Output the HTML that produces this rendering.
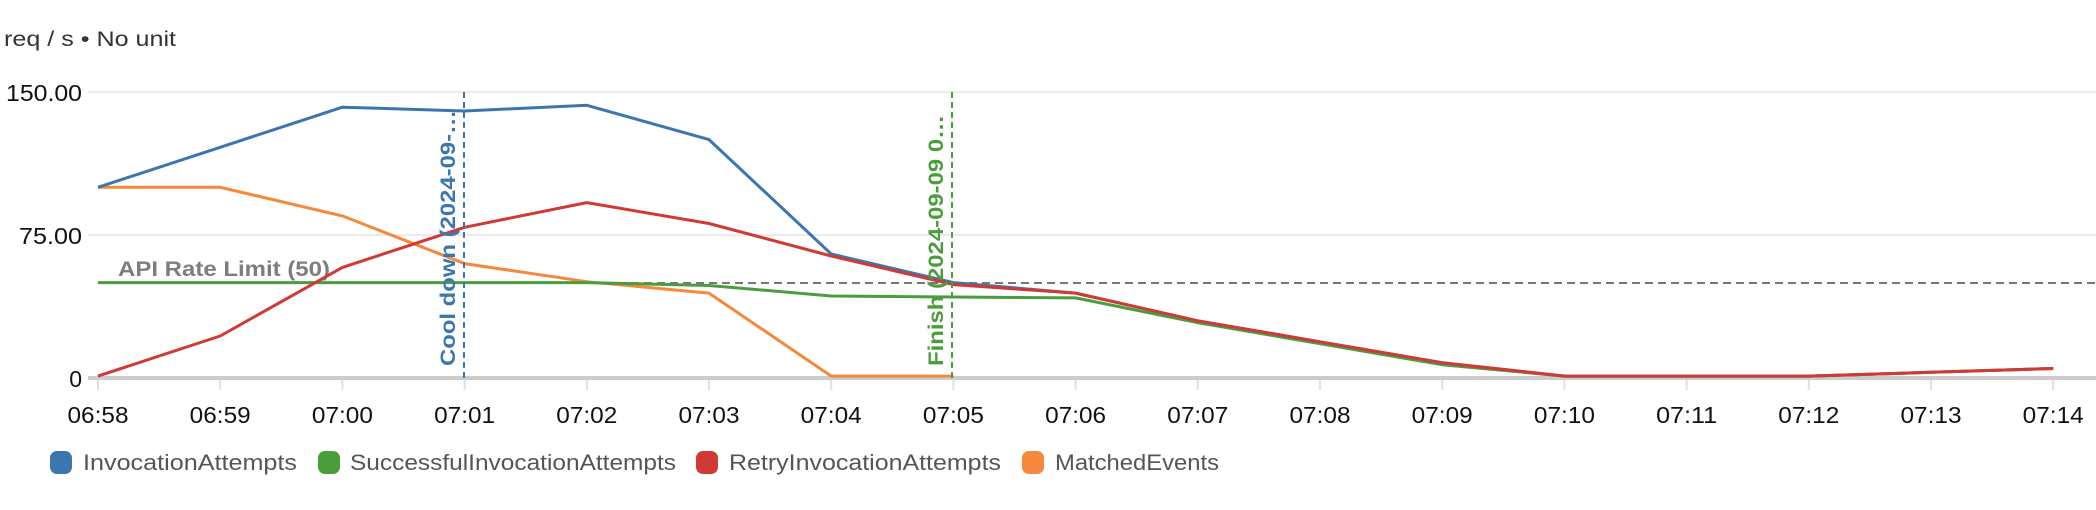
<!DOCTYPE html>
<html><head><meta charset="utf-8"><style>
html,body{margin:0;padding:0;background:#fff;}
svg{display:block;font-family:"Liberation Sans",sans-serif;}
</style></head><body>
<svg width="2096" height="510" viewBox="0 0 2096 510" xmlns="http://www.w3.org/2000/svg">
<text x="4" y="46" font-size="21" fill="#333" textLength="172" lengthAdjust="spacingAndGlyphs">req / s • No unit</text>
<line x1="88" y1="92" x2="2096" y2="92" stroke="#ebebeb" stroke-width="2"/>
<line x1="88" y1="235" x2="2096" y2="235" stroke="#ebebeb" stroke-width="2"/>
<text x="82" y="101" font-size="23" fill="#111" text-anchor="end" textLength="76" lengthAdjust="spacingAndGlyphs">150.00</text>
<text x="82" y="244" font-size="23" fill="#111" text-anchor="end" textLength="63" lengthAdjust="spacingAndGlyphs">75.00</text>
<text x="82" y="387" font-size="23" fill="#111" text-anchor="end">0</text>
<line x1="88" y1="378" x2="2096" y2="378" stroke="#cccccc" stroke-width="4"/>
<g stroke="#e0e0e0" stroke-width="2" id="ticks"></g>
<g font-size="23" fill="#111" text-anchor="middle" id="xl"></g>
<line x1="98" y1="283" x2="2096" y2="283" stroke="#777" stroke-width="2" stroke-dasharray="8,5"/>
<text x="118" y="276" font-size="21" font-weight="bold" fill="#7d7d7d" textLength="212" lengthAdjust="spacingAndGlyphs">API Rate Limit (50)</text>
<g fill="none" stroke-width="3" stroke-linejoin="round" id="series"></g>
<line x1="464" y1="92" x2="464" y2="378" stroke="#3b76af" stroke-width="2" stroke-dasharray="6,4"/>
<text transform="translate(455,366) rotate(-90)" font-size="21" font-weight="bold" fill="#3b76af" textLength="256" lengthAdjust="spacingAndGlyphs">Cool down (2024-09-…</text>
<line x1="952" y1="92" x2="952" y2="378" stroke="#4a9d3b" stroke-width="2" stroke-dasharray="6,4"/>
<text transform="translate(943,366) rotate(-90)" font-size="21" font-weight="bold" fill="#4a9d3b" textLength="251" lengthAdjust="spacingAndGlyphs">Finish (2024-09-09 0…</text>
<g font-size="22" fill="#555">
<rect x="50" y="451" width="22" height="23" rx="7" fill="#3b76af"/>
<text x="83" y="470" textLength="214" lengthAdjust="spacingAndGlyphs">InvocationAttempts</text>
<rect x="318" y="451" width="22" height="23" rx="7" fill="#4a9d3b"/>
<text x="350" y="470" textLength="326" lengthAdjust="spacingAndGlyphs">SuccessfulInvocationAttempts</text>
<rect x="696" y="451" width="22" height="23" rx="7" fill="#d13a34"/>
<text x="729" y="470" textLength="272" lengthAdjust="spacingAndGlyphs">RetryInvocationAttempts</text>
<rect x="1022" y="451" width="22" height="23" rx="7" fill="#f5883a"/>
<text x="1055" y="470" textLength="164" lengthAdjust="spacingAndGlyphs">MatchedEvents</text>
</g>
</svg>
<script>
(function(){
var ns="http://www.w3.org/2000/svg";
function X(i){return 98+i*122.2;}
function Y(v){return 378-v*1.907;}
var labels=["06:58","06:59","07:00","07:01","07:02","07:03","07:04","07:05","07:06","07:07","07:08","07:09","07:10","07:11","07:12","07:13","07:14"];
var t=document.getElementById("ticks"),xl=document.getElementById("xl");
labels.forEach(function(l,i){
 var ln=document.createElementNS(ns,"line");ln.setAttribute("x1",X(i));ln.setAttribute("x2",X(i));ln.setAttribute("y1",380);ln.setAttribute("y2",390);t.appendChild(ln);
 var tx=document.createElementNS(ns,"text");tx.setAttribute("x",X(i));tx.setAttribute("y",423);tx.setAttribute("textLength","61");tx.setAttribute("lengthAdjust","spacingAndGlyphs");tx.textContent=l;xl.appendChild(tx);
});
var s=[
 ["#f5883a",[100,100,85,60,50.5,44.5,1,1]],
 ["#4a9d3b",[50,50,50,50,50,48.5,43,42.5,42,29,18,7,1,1,1,3,5]],
 ["#3b76af",[100,121,142,140,143,125,65,50,44.5,30,19,8,1,1,1,3,5]],
 ["#d13a34",[1,22,58,79,92,81,64,49,44.5,30,19,8,1,1,1,3,5]]
];
var g=document.getElementById("series");
s.forEach(function(d){
 var p=d[1].map(function(v,i){return X(i).toFixed(1)+","+Y(v).toFixed(1);}).join(" ");
 var pl=document.createElementNS(ns,"polyline");pl.setAttribute("points",p);pl.setAttribute("stroke",d[0]);g.appendChild(pl);
});
})();
</script>
</body></html>
